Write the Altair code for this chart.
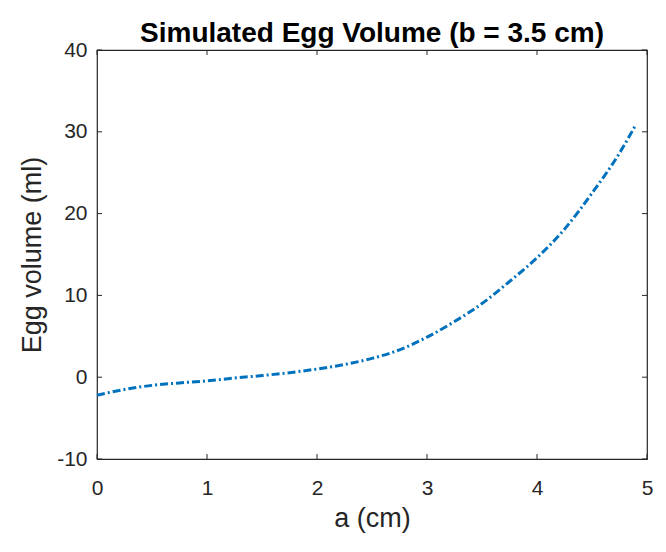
import altair as alt
import pandas as pd

# values
a_cm = [0.0, 0.25, 0.5, 0.75, 1.0, 1.25, 1.5, 1.75, 2.0, 2.25, 2.5, 2.75,
        3.0, 3.25, 3.5, 3.75, 4.0, 4.25, 4.5, 4.75, 4.9]
volume_ml = [-2.2, -1.5, -1.0, -0.7, -0.45, -0.1, 0.2, 0.55, 1.0, 1.55, 2.3, 3.35,
             4.9, 6.8, 9.0, 11.7, 14.6, 18.1, 22.5, 27.4, 30.9]
x_ticks = [0, 1, 2, 3, 4, 5]
y_ticks = [-10, 0, 10, 20, 30, 40]

W, H = 550, 409
TL = 5  # tick length (px)
FONT = "Liberation Sans"
DARK = "#262626"

df = pd.DataFrame({"a": a_cm, "v": volume_ml})
xt = pd.DataFrame({"a": x_ticks})
yt = pd.DataFrame({"v": y_ticks})

xs = alt.Scale(domain=[0, 5], nice=False, zero=False)
ys = alt.Scale(domain=[-10, 40], nice=False, zero=False)
x_axis = alt.Axis(values=x_ticks, title="a (cm)", labelPadding=18, titlePadding=7,
                  labelFlush=False, labelExpr="datum.value + ''")
y_axis = alt.Axis(values=y_ticks, title="Egg volume (ml)", labelPadding=10, titlePadding=10,
                  labelFlush=False, labelExpr="datum.value + ''")

line = alt.Chart(df).mark_line(
    color="#0072BD", strokeWidth=3, strokeDash=[8, 3, 2, 3], interpolate="monotone"
).encode(
    x=alt.X("a:Q", scale=xs, axis=x_axis),
    y=alt.Y("v:Q", scale=ys, axis=y_axis),
)

tick_style = dict(color=DARK, strokeWidth=1)
bottom = alt.Chart(xt).mark_rule(**tick_style).encode(
    x=alt.X("a:Q", scale=xs, axis=x_axis), y=alt.value(H), y2=alt.value(H - TL))
top = alt.Chart(xt).mark_rule(**tick_style).encode(
    x=alt.X("a:Q", scale=xs, axis=x_axis), y=alt.value(0), y2=alt.value(TL))
left = alt.Chart(yt).mark_rule(**tick_style).encode(
    y=alt.Y("v:Q", scale=ys, axis=y_axis), x=alt.value(0), x2=alt.value(TL))
right = alt.Chart(yt).mark_rule(**tick_style).encode(
    y=alt.Y("v:Q", scale=ys, axis=y_axis), x=alt.value(W), x2=alt.value(W - TL))

chart = alt.layer(line, bottom, top, left, right).properties(
    width=W, height=H,
    title=alt.TitleParams("Simulated Egg Volume (b = 3.5 cm)", font=FONT, fontSize=28,
                          fontWeight="bold", color="black", anchor="middle", offset=-9),
    autosize=alt.AutoSizeParams(type="none"),
    padding={"left": 89, "top": 42, "right": 11, "bottom": 85},
).configure_view(
    stroke=DARK, strokeWidth=1.2
).configure_axis(
    domain=False, ticks=False, grid=False,
    labelFont=FONT, labelFontSize=21, labelColor=DARK,
    titleFont=FONT, titleFontSize=27, titleFontWeight="normal", titleColor=DARK,
)

chart.save("out.html", embed_options={"renderer": "svg", "actions": False})
